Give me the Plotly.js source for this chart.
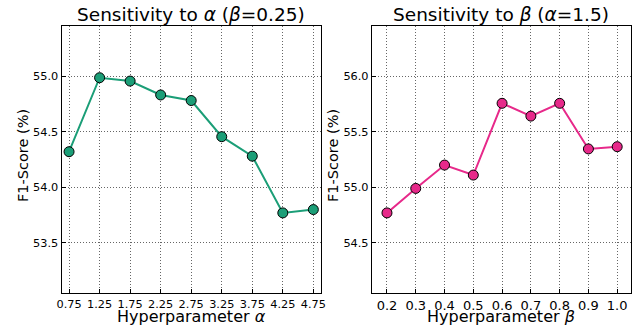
<!DOCTYPE html>
<html>
<head>
<meta charset="utf-8">
<script src="https://cdn.plot.ly/plotly-3.0.1.min.js"></script>
<style>html,body{margin:0;padding:0;background:#fff;}#chart{width:633px;height:327px;}</style>
</head>
<body>
<div id="chart"></div>
<script>
var alphaValues = [0.75, 1.25, 1.75, 2.25, 2.75, 3.25, 3.75, 4.25, 4.75];
var alphaF1 = [54.32, 54.985, 54.955, 54.83, 54.78, 54.455, 54.28, 53.77, 53.80];
var alphaTickLabels = ["0.75","1.25","1.75","2.25","2.75","3.25","3.75","4.25","4.75"];
var betaValues = [0.2, 0.3, 0.4, 0.5, 0.6, 0.7, 0.8, 0.9, 1.0];
var betaF1 = [54.77, 54.99, 55.20, 55.11, 55.755, 55.64, 55.755, 55.345, 55.365];
var betaTickLabels = ["0.2","0.3","0.4","0.5","0.6","0.7","0.8","0.9","1.0"];
var alphaYTicks = [53.5, 54.0, 54.5, 55.0];
var betaYTicks = [54.5, 55.0, 55.5, 56.0];

var FONT = "DejaVu Sans, sans-serif";
var W = 633, H = 327;
var D1 = [0.0975, 0.5066], D2 = [0.5877, 0.9964], DY = [0.104, 0.9205];
var traces = [
  {x: alphaValues, y: alphaF1, xaxis: 'x', yaxis: 'y', mode: 'lines+markers', type: 'scatter',
   line: {color: '#1b9e77', width: 2},
   marker: {color: '#1b9e77', size: 10, line: {color: '#000', width: 1}}},
  {x: betaValues, y: betaF1, xaxis: 'x2', yaxis: 'y2', mode: 'lines+markers', type: 'scatter',
   line: {color: '#e7298a', width: 2},
   marker: {color: '#e7298a', size: 10, line: {color: '#000', width: 1}}}
];
function common(ax, fs) {
  ax.showgrid = true; ax.gridcolor = '#666'; ax.griddash = '1px,2px'; ax.gridwidth = 1;
  ax.showline = true; ax.mirror = true; ax.linecolor = '#000'; ax.linewidth = 1.2;
  ax.ticks = 'inside'; ax.ticklen = 4; ax.tickcolor = '#000'; ax.zeroline = false;
  ax.automargin = false;
  ax.tickfont = {family: FONT, size: fs, color: '#000'};
  return ax;
}
function xax(domain, range, vals, labels, anchor, fs) {
  return common({domain: domain, range: range, anchor: anchor, tickvals: vals, ticktext: labels}, fs);
}
function yax(range, vals, anchor) {
  return common({domain: DY, range: range, anchor: anchor, tickvals: vals,
    ticktext: vals.map(function(v){return v.toFixed(1);})}, 11.3);
}
function ann(text, x, y, size, angle) {
  return {text: text, xref: 'paper', yref: 'paper', x: x, y: y, xanchor: 'center', yanchor: 'middle',
    showarrow: false, textangle: angle || 0, font: {family: FONT, size: size, color: '#000'}};
}
var layout = {
  width: W, height: H, margin: {l: 0, r: 0, t: 0, b: 0},
  paper_bgcolor: '#fff', plot_bgcolor: '#fff', showlegend: false,
  xaxis: xax(D1, [0.63, 4.87], alphaValues, alphaTickLabels, 'y', 11.3),
  yaxis: yax([53.05, 55.45], alphaYTicks, 'x'),
  xaxis2: xax(D2, [0.148, 1.047], betaValues, betaTickLabels, 'y2', 13),
  yaxis2: yax([54.05, 56.45], betaYTicks, 'x2'),
  annotations: [
    ann('Sensitivity to <i>α</i> (<i>β</i>=0.25)', (D1[0] + D1[1]) / 2, 1 - 15 / H, 18.5),
    ann('Sensitivity to <i>β</i> (<i>α</i>=1.5)', (D2[0] + D2[1]) / 2, 1 - 15 / H, 18.5),
    ann('Hyperparameter <i>α</i>', (D1[0] + D1[1]) / 2, 1 - 316 / H, 16),
    ann('Hyperparameter <i>β</i>', (D2[0] + D2[1]) / 2, 1 - 316 / H, 16),
    ann('F1-Score (%)', 23 / W, 1 - 156 / H, 14.5, -90),
    ann('F1-Score (%)', 333 / W, 1 - 156 / H, 14.5, -90)
  ]
};
Plotly.newPlot('chart', traces, layout, {displayModeBar: false, staticPlot: true});
</script>
</body>
</html>
